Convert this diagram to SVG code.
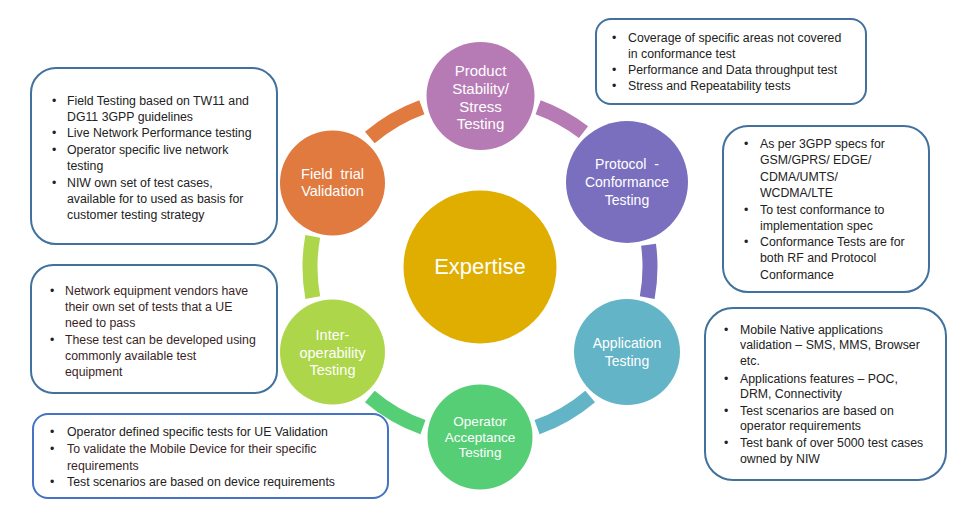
<svg xmlns="http://www.w3.org/2000/svg" width="973" height="521" viewBox="0 0 973 521">
<style>
.arc{fill:none;stroke-width:15;stroke-linecap:butt}
.ct{font-family:"Liberation Sans",Arial,sans-serif;fill:#fff;text-anchor:middle}
.box{fill:#fff;stroke:#41719C;stroke-width:2}
.bt{font-family:"Liberation Sans",Arial,sans-serif;font-size:12.3px;fill:#222}
.br{fill:#3a1f1f}
</style>
<rect width="973" height="521" fill="#fff"/>
<g id="connectors">
<path class="arc" stroke="#B67AB4" d="M538.14,107.25 A170,170 0 0 1 583.49,132.13"/>
<path class="arc" stroke="#7A6FBE" d="M648.54,244.81 A170,170 0 0 1 647.21,297.69"/>
<path class="arc" stroke="#63B4C6" d="M590.18,396.46 A170,170 0 0 1 537.03,427.15"/>
<path class="arc" stroke="#56CE76" d="M422.97,427.15 A170,170 0 0 1 369.82,396.46"/>
<path class="arc" stroke="#ADD64B" d="M312.79,297.69 A170,170 0 0 1 312.79,236.31"/>
<path class="arc" stroke="#E07A3F" d="M369.82,137.54 A170,170 0 0 1 421.86,107.25"/>
</g>
<g id="expertise">
<circle cx="480" cy="267" r="76.5" fill="#DFAE00"/>
<text class="ct" x="480" y="274" font-size="22">Expertise</text>
</g>
<g id="product">
<circle cx="480.5" cy="96" r="54" fill="#B67AB4"/>
<text class="ct" font-size="15" x="480.5" y="76">Product</text>
<text class="ct" font-size="15" x="480.5" y="94">Stability/</text>
<text class="ct" font-size="15" x="480.5" y="111.5">Stress</text>
<text class="ct" font-size="15" x="480.5" y="129">Testing</text>
</g>
<g id="protocol">
<circle cx="627" cy="182" r="61" fill="#7A6FBE"/>
<text class="ct" font-size="14" x="627" y="169" xml:space="preserve">Protocol  -</text>
<text class="ct" font-size="14" x="627" y="187">Conformance</text>
<text class="ct" font-size="14" x="627" y="205">Testing</text>
</g>
<g id="application">
<circle cx="627" cy="352" r="53" fill="#63B4C6"/>
<text class="ct" font-size="14" x="627" y="348">Application</text>
<text class="ct" font-size="14" x="627" y="366">Testing</text>
</g>
<g id="operator">
<circle cx="480" cy="437" r="52.5" fill="#56CE76"/>
<text class="ct" font-size="13.5" x="480" y="425.5">Operator</text>
<text class="ct" font-size="13.5" x="480" y="441.5">Acceptance</text>
<text class="ct" font-size="13.5" x="480" y="457">Testing</text>
</g>
<g id="interop">
<circle cx="332.5" cy="352" r="52.5" fill="#ADD64B"/>
<text class="ct" font-size="14.5" x="332.5" y="339.5">Inter-</text>
<text class="ct" font-size="14.5" x="332.5" y="357.5">operability</text>
<text class="ct" font-size="14.5" x="332.5" y="375">Testing</text>
</g>
<g id="field">
<circle cx="332.5" cy="183" r="52.5" fill="#E07A3F"/>
<text class="ct" font-size="14.5" x="332.5" y="178.5" xml:space="preserve">Field  trial</text>
<text class="ct" font-size="14.5" x="332.5" y="196">Validation</text>
</g>
<g id="box-field">
<rect class="box" x="31" y="68" width="246" height="176" rx="25"/>
<text class="bt" x="52" y="105">•</text><text class="bt" x="67" y="105">Field Testing based on TW11 and</text>
<text class="bt" x="67" y="121">DG11 3GPP guidelines</text>
<text class="bt" x="52" y="137">•</text><text class="bt" x="67" y="137">Live Network Performance testing</text>
<text class="bt" x="52" y="153.5">•</text><text class="bt" x="67" y="153.5">Operator specific live network</text>
<text class="bt" x="67" y="169.5">testing</text>
<text class="bt" x="52" y="186.5">•</text><text class="bt" x="67" y="186.5">NIW own set of test cases,</text>
<text class="bt" x="67" y="202.5">available for to used as basis for</text>
<text class="bt" x="67" y="218.5">customer testing strategy</text>
</g>
<g id="box-product">
<rect class="box" x="596" y="19" width="270" height="85" rx="15"/>
<text class="bt" x="612" y="42">•</text><text class="bt" x="628" y="42">Coverage of specific areas not covered</text>
<text class="bt" x="628" y="58">in conformance test</text>
<text class="bt" x="612" y="74">•</text><text class="bt" x="628" y="74">Performance and Data throughput test</text>
<text class="bt" x="612" y="90">•</text><text class="bt" x="628" y="90">Stress and Repeatability tests</text>
</g>
<g id="box-protocol">
<rect class="box" x="723" y="126" width="206" height="166" rx="25"/>
<text class="bt" x="744" y="148">•</text><text class="bt" x="760" y="148">As per 3GPP specs for</text>
<text class="bt" x="760" y="164">GSM/GPRS/ EDGE/</text>
<text class="bt" x="760" y="181">CDMA/UMTS/</text>
<text class="bt" x="760" y="197">WCDMA/LTE</text>
<text class="bt" x="744" y="213.5">•</text><text class="bt" x="760" y="213.5">To test conformance to</text>
<text class="bt" x="760" y="230">implementation spec</text>
<text class="bt" x="744" y="246">•</text><text class="bt" x="760" y="246">Conformance Tests are for</text>
<text class="bt" x="760" y="262">both RF and Protocol</text>
<text class="bt" x="760" y="278.5">Conformance</text>
</g>
<g id="box-interop">
<rect class="box" x="31" y="265" width="246" height="128" rx="22"/>
<text class="bt" x="50" y="295">•</text><text class="bt br" x="65" y="295">Network equipment vendors have</text>
<text class="bt br" x="65" y="311">their own set of tests that a UE</text>
<text class="bt br" x="65" y="327">need to pass</text>
<text class="bt" x="50" y="344">•</text><text class="bt br" x="65" y="344">These test can be developed using</text>
<text class="bt br" x="65" y="360">commonly available test</text>
<text class="bt br" x="65" y="376">equipment</text>
</g>
<g id="box-application">
<rect class="box" x="705" y="308" width="241" height="172" rx="28"/>
<text class="bt" x="724" y="333.5">•</text><text class="bt" x="740" y="333.5">Mobile Native applications</text>
<text class="bt" x="740" y="349">validation – SMS, MMS, Browser</text>
<text class="bt" x="740" y="365">etc.</text>
<text class="bt" x="724" y="382.5">•</text><text class="bt" x="740" y="382.5">Applications features – POC,</text>
<text class="bt" x="740" y="398">DRM, Connectivity</text>
<text class="bt" x="724" y="414.5">•</text><text class="bt" x="740" y="414.5">Test scenarios are based on</text>
<text class="bt" x="740" y="430">operator requirements</text>
<text class="bt" x="724" y="447">•</text><text class="bt" x="740" y="447">Test bank of over 5000 test cases</text>
<text class="bt" x="740" y="463">owned by NIW</text>
</g>
<g id="box-operator">
<rect class="box" x="33" y="414" width="355" height="84" rx="15" style="stroke:#4472C4"/>
<text class="bt" x="50" y="436">•</text><text class="bt" x="67" y="436">Operator defined specific tests for UE Validation</text>
<text class="bt" x="50" y="453">•</text><text class="bt br" x="67" y="453">To validate the Mobile Device for their specific</text>
<text class="bt br" x="67" y="469.5">requirements</text>
<text class="bt" x="50" y="485.5">•</text><text class="bt" x="67" y="485.5">Test scenarios are based on device requirements</text>
</g>
</svg>
